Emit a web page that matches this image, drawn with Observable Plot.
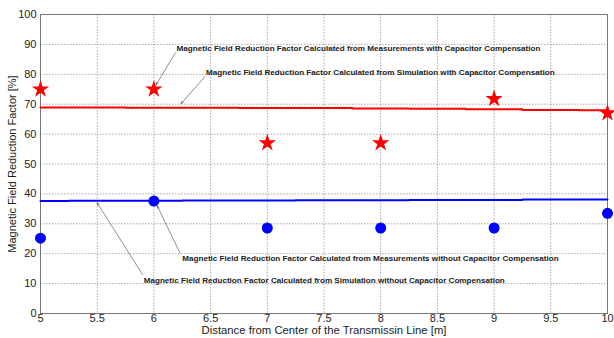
<!DOCTYPE html>
<html><head><meta charset="utf-8">
<script src="https://cdn.jsdelivr.net/npm/d3@7"></script>
<script src="https://cdn.jsdelivr.net/npm/@observablehq/plot@0.6"></script>
<style>html,body{margin:0;padding:0;background:#fff}</style>
</head><body><div id="chart"></div>
<script>
const distances = [5, 6, 7, 8, 9, 10];
const measWith = [75, 75, 57, 57, 71.8, 67];
const measWithout = [25.2, 37.6, 28.6, 28.6, 28.6, 33.5];
const simX = [5, 5.5, 6, 6.5, 7, 7.5, 8, 8.5, 9, 9.5, 10];
const simWith = [68.9, 68.9, 68.8, 68.8, 68.7, 68.7, 68.6, 68.5, 68.3, 68.1, 68.0];
const simWithout = [37.6, 37.7, 37.7, 37.8, 37.8, 37.9, 37.9, 38.0, 38.0, 38.1, 38.1];
const xTicks = [5, 5.5, 6, 6.5, 7, 7.5, 8, 8.5, 9, 9.5, 10];
const yTicks = [0, 10, 20, 30, 40, 50, 60, 70, 80, 90, 100];
const noteText = [
  "Magnetic Field Reduction Factor Calculated from Measurements with Capacitor Compensation",
  "Magnetic Field Reduction Factor Calculated from Simulation with Capacitor Compensation",
  "Magnetic Field Reduction Factor Calculated from Measurements without Capacitor Compensation",
  "Magnetic Field Reduction Factor Calculated from Simulation without Capacitor Compensation"
];
const noteX = [6.2, 6.46, 6.25, 5.91];
const noteY = [88.6, 80.5, 18.5, 11.2];
const arrowFromX = [6.19, 6.45, 6.23, 5.9];
const arrowFromY = [87.2, 79.2, 20.2, 13.0];
const arrowToX = [6.02, 6.24, 6.03, 5.5];
const arrowToY = [76.5, 70.2, 36.0, 37.0];

const pts = (xs, ys) => xs.map((x, i) => ({x, y: ys[i]}));
const notes = noteText.map((t, i) => ({t, x: noteX[i], y: noteY[i], x1: arrowFromX[i], y1: arrowFromY[i], x2: arrowToX[i], y2: arrowToY[i]}));

const chart = Plot.plot({
  width: 614, height: 338,
  marginLeft: 40, marginRight: 7, marginTop: 14, marginBottom: 25,
  style: {fontFamily: "Arial, 'Liberation Sans', sans-serif", fontSize: "11px", color: "#222", background: "#fff"},
  x: {domain: [5, 10], label: null},
  y: {domain: [0, 100], label: null},
  marks: [
    Plot.gridX(xTicks, {stroke: "#888", strokeOpacity: 0.7, strokeDasharray: "1.5,1.5"}),
    Plot.gridY(yTicks, {stroke: "#888", strokeOpacity: 0.7, strokeDasharray: "1.5,1.5"}),
    Plot.frame({stroke: "#777"}),
    Plot.axisX({ticks: xTicks, tickSize: 0, tickPadding: 1, tickFormat: d => String(d), label: null, fontSize: 11}),
    Plot.axisY({ticks: yTicks, tickSize: 0, tickPadding: 4, label: null, fontSize: 11}),
    Plot.line(pts(simX, simWith), {x: "x", y: "y", stroke: "#ff0000", strokeWidth: 2, curve: "step"}),
    Plot.line(pts(simX, simWithout), {x: "x", y: "y", stroke: "#0000ff", strokeWidth: 2, curve: "step"}),
    Plot.dot(pts(distances, measWith), {x: "x", y: "y", symbol: "star", fill: "#ff0000", r: 5.5}),
    Plot.dot(pts(distances, measWithout), {x: "x", y: "y", symbol: "circle", fill: "#0000ff", r: 5.5}),
    Plot.arrow(notes, {x1: "x1", y1: "y1", x2: "x2", y2: "y2", stroke: "#444", strokeWidth: 0.6, headLength: 6, headAngle: 40}),
    Plot.text(notes, {x: "x", y: "y", text: "t", textAnchor: "start", fontWeight: "bold", fontSize: 8.1, fill: "#222"}),
    Plot.text(["Distance from Center of the Transmissin Line [m]"], {frameAnchor: "bottom", textAnchor: "middle", dy: 20.5, fontSize: 11.3, fill: "#222"}),
    Plot.text(["Magnetic Field Reduction Factor [%]"], {frameAnchor: "left", textAnchor: "middle", dx: -28, rotate: -90, fontSize: 11, fill: "#222"})
  ]
});
document.getElementById("chart").appendChild(chart);
</script>
</body></html>
